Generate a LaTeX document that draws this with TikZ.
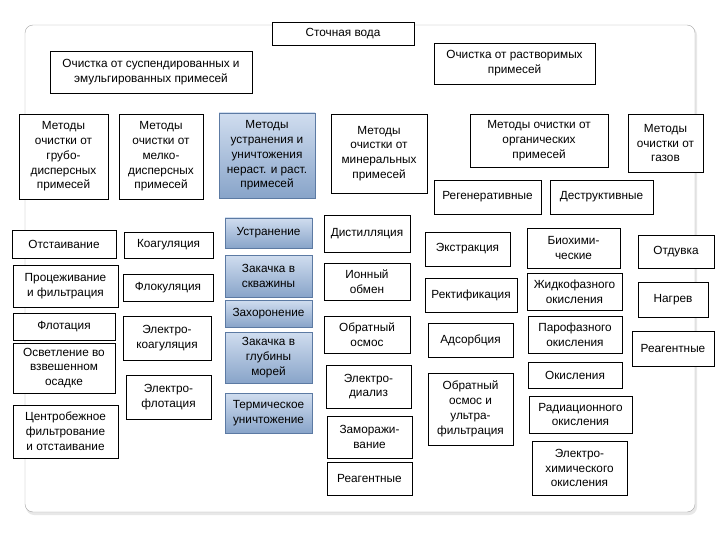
\documentclass[tikz,border=0pt]{standalone}
\usepackage{fontspec}
\setmainfont{Liberation Sans}
\definecolor{bluetop}{RGB}{208,221,239}
\definecolor{bluebot}{RGB}{136,164,201}
\definecolor{blueline}{RGB}{92,122,163}
\definecolor{frameline}{RGB}{165,165,165}

\begin{document}
\begin{tikzpicture}[x=1pt, y=-1pt,
	box/.style={rectangle, draw, line width=0.8pt, fill=white, align=center, inner sep=1pt, font=\fontsize{11.8}{14.8}\selectfont},
	bluebox/.style={box, draw=blueline, top color=bluetop, bottom color=bluebot}]
		\useasboundingbox (0,0) rectangle (720,540);
		\fill[gray!18, rounded corners=8pt] (26,27) rectangle (697,515);
		\draw[frameline, fill=white, rounded corners=8pt] (25,25) rectangle (695,512);
		\node(VODA) at (343, 33.5)[box, minimum width=142, minimum height=23]{Сточная вода};
		\node(SUSP) at (151, 72)[box, minimum width=202, minimum height=42]{Очистка от суспендированных и\\эмульгированных примесей};
		\node(RASTV) at (514.5, 63.5)[box, minimum width=161, minimum height=41]{Очистка от растворимых\\примесей};
		\node(GRUBO) at (63.5, 156.5)[box, minimum width=89, minimum height=85]{Методы\\очистки от\\грубо-\\дисперсных\\примесей};
		\node(MELKO) at (161, 156.5)[box, minimum width=84, minimum height=85]{Методы\\очистки от\\мелко-\\дисперсных\\примесей};
		\node(USTR) at (267, 155.5)[bluebox, minimum width=96, minimum height=85]{Методы\\устранения и\\уничтожения\\нераст. и раст.\\примесей};
		\node(MINER) at (379, 153.5)[box, minimum width=96, minimum height=79]{Методы\\очистки от\\минеральных\\примесей};
		\node(ORGAN) at (539, 140.5)[box, minimum width=138, minimum height=53]{Методы очистки от\\органических\\примесей};
		\node(GAZ) at (665.5, 143)[box, minimum width=75, minimum height=58]{Методы\\очистки от\\газов};
		\node(REGEN) at (487.5, 197)[box, minimum width=107, minimum height=34]{Регенеративные};
		\node(DESTR) at (601.5, 197)[box, minimum width=103, minimum height=34]{Деструктивные};
		\node(OTST) at (64, 244)[box, minimum width=104, minimum height=28]{Отстаивание};
		\node(PROC) at (65.5, 286)[box, minimum width=105, minimum height=42]{Процеживание\\и фильтрация};
		\node(FLOT) at (64, 326.5)[box, minimum width=102, minimum height=27]{Флотация};
		\node(OSVET) at (64, 368)[box, minimum width=102, minimum height=50]{Осветление во\\взвешенном\\осадке};
		\node(CENTR) at (65.5, 431.5)[box, minimum width=105, minimum height=53]{Центробежное\\фильтрование\\и отстаивание};
		\node(KOAG) at (168.5, 245)[box, minimum width=89, minimum height=26]{Коагуляция};
		\node(FLOK) at (168, 287.5)[box, minimum width=90, minimum height=27]{Флокуляция};
		\node(EKOAG) at (167, 338)[box, minimum width=88, minimum height=44]{Электро-\\коагуляция};
		\node(EFLOT) at (168.5, 397)[box, minimum width=85, minimum height=44]{Электро-\\флотация};
		\node(UST) at (268.5, 233)[bluebox, minimum width=87, minimum height=30]{Устранение};
		\node(SKV) at (268.5, 276)[bluebox, minimum width=87, minimum height=42]{Закачка в\\скважины};
		\node(ZAH) at (268.5, 313.5)[bluebox, minimum width=87, minimum height=27]{Захоронение};
		\node(MOR) at (268.5, 357.5)[bluebox, minimum width=87, minimum height=51]{Закачка в\\глубины\\морей};
		\node(TERM) at (268.5, 413)[bluebox, minimum width=87, minimum height=40]{Термическое\\уничтожение};
		\node(DIST) at (367, 233.5)[box, minimum width=86, minimum height=37]{Дистилляция};
		\node(ION) at (367, 281.5)[box, minimum width=86, minimum height=37]{Ионный\\обмен};
		\node(OSM) at (367, 334.5)[box, minimum width=86, minimum height=37]{Обратный\\осмос};
		\node(EDIAL) at (368.5, 386.5)[box, minimum width=85, minimum height=43]{Электро-\\диализ};
		\node(ZAMOR) at (369.5, 437)[box, minimum width=85, minimum height=42]{Заморажи-\\вание};
		\node(REAGM) at (369.5, 478.5)[box, minimum width=85, minimum height=33]{Реагентные};
		\node(EKSTR) at (467.5, 249)[box, minimum width=85, minimum height=34]{Экстракция};
		\node(REKT) at (471, 295)[box, minimum width=92, minimum height=34]{Ректификация};
		\node(ADS) at (470.5, 340)[box, minimum width=85, minimum height=34]{Адсорбция};
		\node(OSUF) at (470.5, 409)[box, minimum width=85, minimum height=72]{Обратный\\осмос и\\ультра-\\фильтрация};
		\node(BIO) at (573.5, 248)[box, minimum width=93, minimum height=40]{Биохими-\\ческие};
		\node(ZHID) at (574.5, 291.5)[box, minimum width=95, minimum height=37]{Жидкофазного\\окисления};
		\node(PARO) at (575, 334.5)[box, minimum width=94, minimum height=37]{Парофазного\\окисления};
		\node(OKIS) at (575, 375)[box, minimum width=94, minimum height=26]{Окисления};
		\node(RAD) at (580.5, 414.5)[box, minimum width=103, minimum height=37]{Радиационного\\окисления};
		\node(EHIM) at (579.5, 468)[box, minimum width=95, minimum height=54]{Электро-\\химического\\окисления};
		\node(OTD) at (676, 252)[box, minimum width=76, minimum height=33]{Отдувка};
		\node(NAGR) at (673, 299.5)[box, minimum width=70, minimum height=35]{Нагрев};
		\node(REAGG) at (673, 348.5)[box, minimum width=82, minimum height=35]{Реагентные};
	\end{tikzpicture}
\end{document}
